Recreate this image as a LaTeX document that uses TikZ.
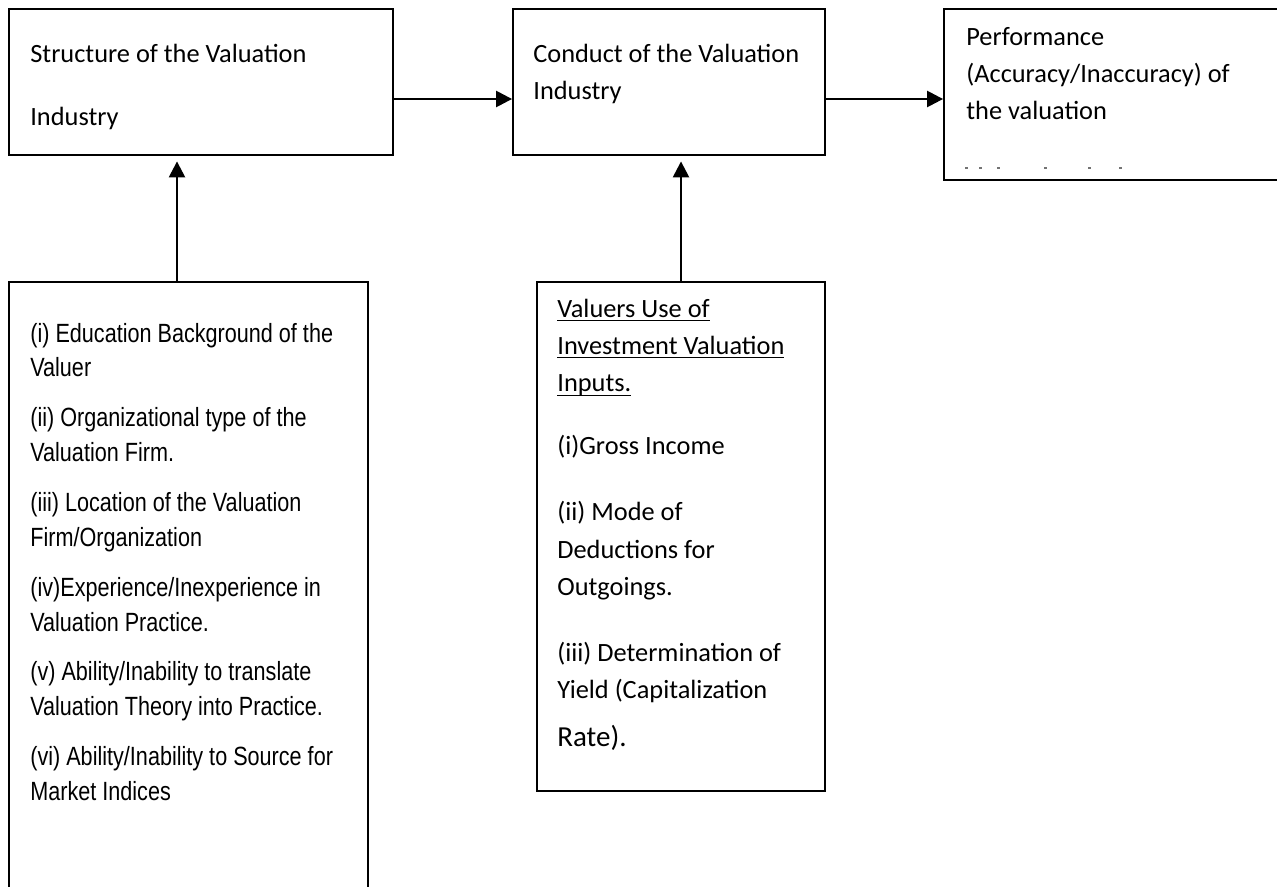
\documentclass[tikz,border=0pt]{standalone}
\usepackage{fontspec}
\setmainfont{Carlito}
\newfontfamily\narrowfont[FakeStretch=0.82]{Liberation Sans}
\usetikzlibrary{arrows.meta,positioning,fit}
\newsavebox\ulbox
\newcommand\undl[1]{\sbox\ulbox{#1}\rlap{\rule[-2.3pt]{\wd\ulbox}{0.75pt}}\usebox\ulbox}
% lines stacked from the baseline of the first one
\newcommand\colstack[1]{\begin{tabular}[t]{@{}l@{}}#1\end{tabular}}

\begin{document}
\begin{tikzpicture}[
    x=0.02cm, y=-0.02cm,
    >={Triangle[length=0.32cm, width=0.32cm]},
    box/.style={draw, line width=1.05pt, inner sep=0pt},
    txt/.style={anchor=base west, inner sep=0pt,
                font=\fontsize{15}{21.3}\selectfont},
    lst/.style={anchor=base west, inner sep=0pt,
                font=\narrowfont\fontsize{15}{19.9}\selectfont},
    arr/.style={->, line width=1.4pt},
  ]
  \useasboundingbox (0,0) rectangle (1277,886);

  % Top row of boxes
  \node[box, fit={(9,9) (393,155)}] (struct) {};
  \node[txt] (structtxt) at (30,62)
    {\colstack{Structure of the Valuation\\[14.6pt]Industry}};

  \node[box, fit={(513,9) (825,155)}] (conduct) {};
  \node[txt] (conducttxt) at (533,62)
    {\colstack{Conduct of the Valuation\\Industry}};

  \node[box, fit={(944,9) (1295,180)}] (perform) {};
  \node[txt] (performtxt) at (966,45)
    {\colstack{Performance\\(Accuracy/Inaccuracy) of\\the valuation}};
  % clipped last line of the performance box
  \foreach \mx in {966,980,998,1045,1089,1120}
    \fill[black!55] (\mx-1.5,166.5) rectangle (\mx+1.5,168.5);

  \coordinate (row) at (0,99);
  \draw[arr] (struct.east |- row) -- (conduct.west |- row);
  \draw[arr] (conduct.east |- row) -- (perform.west |- row);

  % Factors under the structure box
  \node[box, fit={(9,282) (368,905)}] (factors) {};
  \node[lst] (factorstxt) at (30,342)
    {\colstack{(i) Education Background of the\\Valuer\\[8.4pt]
     (ii) Organizational type of the\\Valuation Firm.\\[8.4pt]
     (iii) Location of the Valuation\\Firm/Organization\\[8.4pt]
     (iv)Experience/Inexperience in\\Valuation Practice.\\[8.4pt]
     (v) Ability/Inability to translate\\Valuation Theory into Practice.\\[8.4pt]
     (vi) Ability/Inability to Source for\\Market Indices}};

  % Inputs under the conduct box
  \node[box, fit={(537,282) (825,791)}] (inputs) {};
  \node[txt] (inputstxt) at (557,317)
    {\colstack{\undl{Valuers Use of}\\\undl{Investment Valuation}\\\undl{Inputs.}\\[14.5pt]
     (i)Gross Income\\[16.2pt]
     (ii) Mode of\\Deductions for\\Outgoings.\\[16.2pt]
     (iii) Determination of\\Yield (Capitalization\\[6pt]
     \fontsize{16.5}{21.3}\selectfont Rate).}};

  \coordinate (col) at (177,0);
  \draw[arr, shorten >=0.11cm] (factors.north -| col) -- (struct.south -| col);
  \draw[arr, shorten >=0.11cm] (inputs.north) -- (inputs.north |- conduct.south);
\end{tikzpicture}
\end{document}
